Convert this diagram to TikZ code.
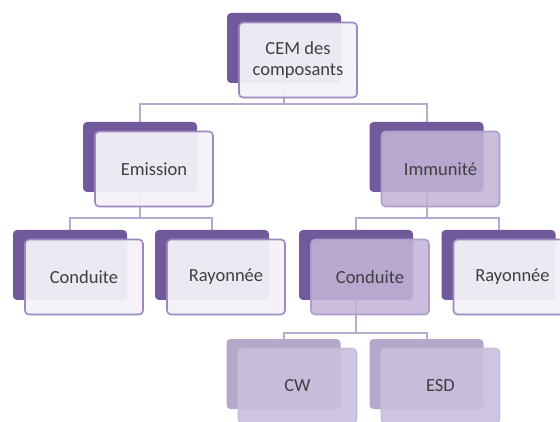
\documentclass[tikz,border=0pt]{standalone}
\usepackage{fontspec}
\setmainfont{Carlito}
\usetikzlibrary{backgrounds}

\definecolor{fonce}{HTML}{715A9B}
\definecolor{bord}{HTML}{9D89BF}
\definecolor{pale}{HTML}{F3F1F7}
\definecolor{mauve}{HTML}{C3B4D7}
\definecolor{bordmauve}{HTML}{AD9DCA}
\definecolor{dosclair}{HTML}{B5A8CB}
\definecolor{faceclair}{HTML}{CBBFDD}
\definecolor{trait}{HTML}{B8A9D0}
\definecolor{texte}{HTML}{3F3F3F}

\begin{document}
\begin{tikzpicture}[x=1pt,y=-1pt,
    dos/.style={fill=fonce, rounded corners=4pt, minimum width=114pt, minimum height=70pt, inner sep=0pt},
    face/.style={draw=bord, line width=1.6pt, fill=pale, fill opacity=0.95, text opacity=1,
      rounded corners=4pt, minimum width=118pt, minimum height=75pt, inner sep=0pt,
      align=center, text=texte, font=\fontsize{18.5}{21}\selectfont},
    facemauve/.style={face, draw=bordmauve, fill=mauve, fill opacity=0.87},
    dospale/.style={dos, fill=dosclair},
    facepale/.style={face, draw=faceclair!90!bordmauve, fill=faceclair, fill opacity=0.9},
    lien/.style={draw=trait, line width=2pt}]
  \path[use as bounding box, clip] (0,0) rectangle (560,422);

  % niveau 1
  \node[dos] (cem) at (284,48) {};
  \node[face] (cem-t) at (298,60) {CEM des\\composants};

  % niveau 2
  \node[dos] (emission) at (140,157) {};
  \node[face] (emission-t) at (154,169) {Emission};
  \node[dos] (immunite) at (426.5,157) {};
  \node[facemauve] (immunite-t) at (440.5,169) {Immunit\'e};

  % niveau 3
  \node[dos] (condE) at (70,265) {};
  \node[face] (condE-t) at (84,277) {Conduite};
  \node[dos] (rayE) at (212,265) {};
  \node[face] (rayE-t) at (226,277) {Rayonn\'ee};
  \node[dos] (condI) at (356,265) {};
  \node[facemauve] (condI-t) at (370,277) {Conduite};
  \node[dos] (rayI) at (498.5,265) {};
  \node[face] (rayI-t) at (512.5,277) {Rayonn\'ee};

  % niveau 4
  \node[dospale] (cw) at (283.5,374) {};
  \node[facepale] (cw-t) at (297.5,386) {CW};
  \node[dospale] (esd) at (426.5,374) {};
  \node[facepale] (esd-t) at (440.5,386) {ESD};

  % liens
  \begin{pgfonlayer}{background}
    \draw[lien] (cem.south) -- ++(0,21) -| (emission.north);
    \draw[lien] (cem.south) -- ++(0,21) -| (immunite.north);
    \draw[lien] (emission.south) -- ++(0,26) -| (condE.north);
    \draw[lien] (emission.south) -- ++(0,26) -| (rayE.north);
    \draw[lien] (immunite.south) -- ++(0,26) -| (condI.north);
    \draw[lien] (immunite.south) -- ++(0,26) -| (rayI.north);
    \draw[lien] (condI.south) -- ++(0,33) -| (cw.north);
    \draw[lien] (condI.south) -- ++(0,33) -| (esd.north);
  \end{pgfonlayer}
\end{tikzpicture}
\end{document}
